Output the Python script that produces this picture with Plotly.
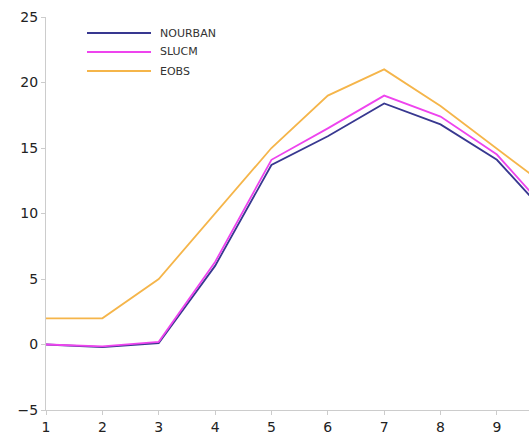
import plotly.graph_objects as go

months = [1, 2, 3, 4, 5, 6, 7, 8, 9, 10]
nourban = [0.0, -0.2, 0.1, 6.0, 13.7, 15.9, 18.4, 16.8, 14.1, 9.4]
slucm = [0.0, -0.15, 0.2, 6.3, 14.1, 16.5, 19.0, 17.4, 14.5, 9.7]
eobs = [2.0, 2.0, 5.0, 10.0, 15.0, 19.0, 21.0, 18.2, 15.0, 11.7]

series_names = ["NOURBAN", "SLUCM", "EOBS"]
series_values = [nourban, slucm, eobs]
colors = ["#383890", "#ee44ee", "#f5b54a"]

y_ticks = [-5, 0, 5, 10, 15, 20, 25]
x_ticks = [1, 2, 3, 4, 5, 6, 7, 8, 9, 10]

fig = go.Figure()
for name, vals, col in zip(series_names, series_values, colors):
    fig.add_trace(go.Scatter(x=months, y=vals, mode="lines", name=name,
                             line=dict(color=col, width=1.8), showlegend=False))

# custom legend (lines + labels in paper coordinates)
W, H = 529, 444
ml, mr, mt, mb = 46, 0, 17, 34
pw, ph = W - ml - mr, H - mt - mb
def px_x(p):
    return (p - ml) / pw
def px_y(p):
    return 1 - (p - mt) / ph
leg_y = [33, 52, 71]
for name, col, yy in zip(series_names, colors, leg_y):
    fig.add_shape(type="line", xref="paper", yref="paper",
                  x0=px_x(87), x1=px_x(151), y0=px_y(yy), y1=px_y(yy),
                  line=dict(color=col, width=2))
    fig.add_annotation(xref="paper", yref="paper", x=px_x(158), y=px_y(yy),
                       text=name, showarrow=False, xanchor="left", yanchor="middle",
                       font=dict(family="DejaVu Sans", size=11, color="#333333"))

fig.update_layout(
    width=W, height=H,
    margin=dict(l=ml, r=mr, t=mt, b=mb),
    plot_bgcolor="white", paper_bgcolor="white",
    font=dict(family="DejaVu Sans", size=14, color="#222222"),
)
fig.update_xaxes(range=[1, 9.57], tickvals=x_ticks, showgrid=False, zeroline=False,
                 showline=True, linecolor="#cccccc", linewidth=1,
                 ticks="outside", ticklen=4, tickcolor="#cccccc",
                 tickfont=dict(size=14, color="#222222"))
fig.update_yaxes(range=[-5, 25], tickvals=y_ticks, showgrid=False, zeroline=False,
                 showline=True, linecolor="#cccccc", linewidth=1,
                 ticks="outside", ticklen=4, tickcolor="#cccccc",
                 tickfont=dict(size=14, color="#222222"))

fig.write_html("out.html", config={"displayModeBar": False},
               post_script="document.body.style.margin='0';")
